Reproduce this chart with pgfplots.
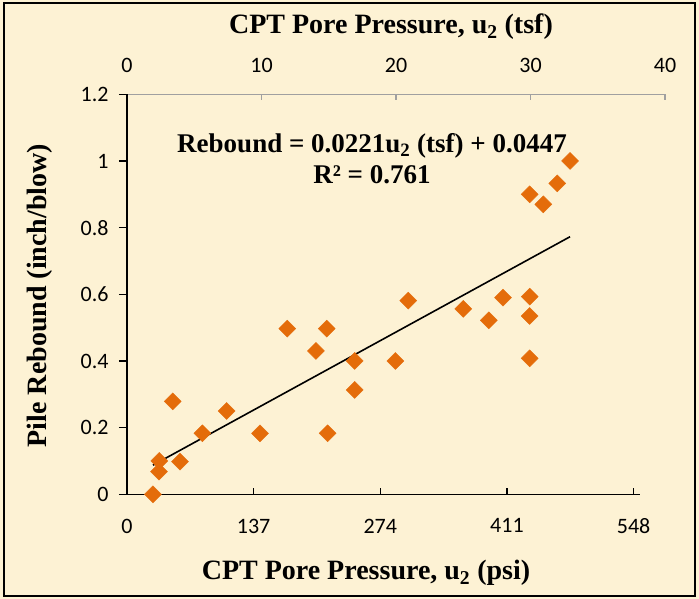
\documentclass[border=0pt]{standalone}
\usepackage{pgfplots}
\pgfplotsset{compat=1.18}
\usepackage{fontspec}
\setmainfont{Liberation Serif}
\newfontfamily\calibri{Carlito}
\definecolor{bg}{RGB}{253,242,212}
\definecolor{mk}{RGB}{228,108,10}
\definecolor{topgray}{RGB}{160,160,160}
\pgfplotstableread{
x y
1.93 0.000
2.40 0.100
2.38 0.068
3.40 0.279
3.94 0.098
5.60 0.183
7.41 0.250
9.89 0.183
11.92 0.497
14.05 0.430
14.85 0.497
14.92 0.183
16.93 0.400
16.93 0.313
19.95 0.400
20.91 0.581
25.00 0.556
26.90 0.522
27.96 0.590
29.94 0.593
29.94 0.535
29.94 0.408
29.94 0.900
30.95 0.870
31.99 0.933
32.94 1.000
}\datatable
\begin{document}
\begin{tikzpicture}
\fill[bg] (-127pt,-104.7pt) rectangle (572pt,494.3pt);
\draw[black, line width=1.5pt] (-123pt,-101.7pt) rectangle (568pt,491.3pt);
% top axis (tsf)
\begin{axis}[at={(0pt,0pt)}, anchor=south west, scale only axis,
  width=538pt, height=400pt,
  xmin=0, xmax=40, ymin=0, ymax=1.2,
  hide y axis, axis x line*=top,
  x axis line style={topgray, line width=1.5pt, -},
  xtick={0,10,20,30,40}, tick align=inside, major tick length=6pt,
  xtick style={topgray, line width=1.5pt},
  /pgf/number format/assume math mode=true,
  xticklabel style={font=\calibri\fontsize{22}{24}\selectfont, yshift=18pt},
]
\end{axis}
% bottom axis (psi)
\begin{axis}[at={(0pt,0pt)}, anchor=south west, scale only axis,
  width=512.6pt, height=400pt,
  xmin=0, xmax=554.5, ymin=0, ymax=1.2,
  hide y axis, axis x line*=bottom,
  x axis line style={black, line width=1.5pt, -},
  xtick={0,137,274,411,548}, tick align=inside, major tick length=6pt,
  xtick style={black, line width=1.5pt},
  /pgf/number format/assume math mode=true,
  xticklabel style={font=\calibri\fontsize{22}{24}\selectfont, yshift=-21pt},
]
\end{axis}
% data axis
\begin{axis}[at={(0pt,0pt)}, anchor=south west, scale only axis,
  width=538pt, height=400pt,
  xmin=0, xmax=40, ymin=0, ymax=1.2,
  hide x axis, axis y line*=left,
  y axis line style={black, line width=1.5pt, -},
  ytick={0,0.2,0.4,0.6,0.8,1,1.2}, tick align=outside, major tick length=8pt,
  ytick style={black, line width=1.5pt},
  /pgf/number format/assume math mode=true,
  /pgf/number format/fixed,
  yticklabel style={font=\calibri\fontsize{22}{24}\selectfont, xshift=-7pt},
  clip=false,
]
\addplot[only marks, mark=square*, mark size=6pt, mark options={rotate=45, fill=mk, draw=mk}] table[x=x,y=y]{\datatable};
\addplot[black, line width=1.6pt, no markers] coordinates {(1.93,0.0874) (32.94,0.7727)};
\end{axis}
\node[font=\fontsize{28}{30}\selectfont\bfseries] at (264pt,467.3pt) {CPT Pore Pressure, u\textsubscript{2} (tsf)};
\node[font=\fontsize{28}{30}\selectfont\bfseries] at (239pt,-78.7pt) {CPT Pore Pressure, u\textsubscript{2} (psi)};
\node[font=\fontsize{28}{30}\selectfont\bfseries, rotate=90] at (-87pt,198.8pt) {Pile Rebound (inch/blow)};
\node[font=\fontsize{27}{29}\selectfont\bfseries, anchor=base] at (245pt,341.6pt) {Rebound = 0.0221u\textsubscript{2} (tsf) + 0.0447};
\node[font=\fontsize{27}{29}\selectfont\bfseries, anchor=base] at (245pt,311pt) {R² = 0.761};
\end{tikzpicture}
\end{document}
